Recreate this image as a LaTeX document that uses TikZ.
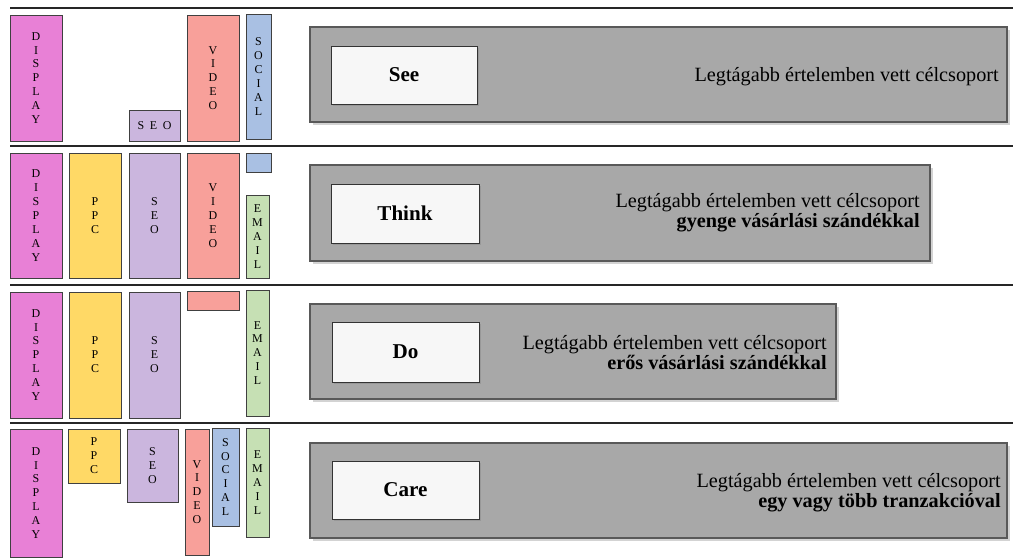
\documentclass[tikz,border=0pt]{standalone}
\usepackage{fontspec}
\setmainfont{Liberation Serif}
\usepackage{xcolor}
\usetikzlibrary{shadows}
\definecolor{dispc}{HTML}{E880D6}
\definecolor{ppcc}{HTML}{FFD966}
\definecolor{seoc}{HTML}{CBB6DE}
\definecolor{vidc}{HTML}{F8A09A}
\definecolor{socc}{HTML}{A9C0E3}
\definecolor{emlc}{HTML}{C6E0B4}
\definecolor{stagegray}{HTML}{A8A8A8}
\tikzset{
	chan/.style={draw=black!75, line width=0.6pt},
	dispbox/.style={chan, fill=dispc},
	ppcbox/.style={chan, fill=ppcc},
	seobox/.style={chan, fill=seoc},
	vidbox/.style={chan, fill=vidc},
	socbox/.style={chan, fill=socc},
	emlbox/.style={chan, fill=emlc},
	letters/.style={font=\fontsize{8.5}{9.9}\selectfont, align=center, inner sep=0pt},
	rowline/.style={draw=black!85, line width=1.3pt},
	stagebox/.style={fill=stagegray, draw=black!65, line width=0.8pt, drop shadow={shadow xshift=0.7mm, shadow yshift=-0.7mm, opacity=0.35}},
	namebox/.style={fill=black!3, draw=black!80, line width=0.7pt, drop shadow={shadow xshift=0.5mm, shadow yshift=-0.5mm, opacity=0.4}},
	stagename/.style={font=\fontsize{15}{17}\selectfont\bfseries},
	stagetext/.style={font=\fontsize{14.4}{12.3}\selectfont, align=right, anchor=east, inner sep=0pt}
}
\begin{document}
\begin{tikzpicture}[x=0.025cm, y=-0.025cm]
	\useasboundingbox (0,0) rectangle (1015,558);
	\coordinate (l1a) at (10,8);    \coordinate (l1b) at (1013,8);
	\coordinate (l2a) at (10,146);  \coordinate (l2b) at (1013,146);
	\coordinate (l3a) at (10,285);  \coordinate (l3b) at (1013,285);
	\coordinate (l4a) at (10,423);  \coordinate (l4b) at (1013,423);
	\draw[rowline] (l1a) -- (l1b);
	\draw[rowline] (l2a) -- (l2b);
	\draw[rowline] (l3a) -- (l3b);
	\draw[rowline] (l4a) -- (l4b);
	% See
	\draw[dispbox] (10,15) rectangle (62,141) node[midway, letters] (disp1) {D\\I\\S\\P\\L\\A\\Y};
	\draw[seobox] (129,110) rectangle (180,141) node[midway, letters] (seo1) {S\hspace{4pt}E\hspace{4pt}O};
	\draw[vidbox] (187,15) rectangle (239,141) node[midway, letters] (vid1) {V\\I\\D\\E\\O};
	\draw[socbox] (246,14) rectangle (271,139) node[midway, letters] (soc1) {S\\O\\C\\I\\A\\L};
	\draw[stagebox] (310,27) rectangle (1007,122);
	\draw[namebox] (331,46) rectangle (477,104) node[midway, stagename] (see) {See};
	\node[stagetext] (seetxt) at (999,77) {Legtágabb értelemben vett célcsoport};
	% Think
	\draw[dispbox] (10,153) rectangle (62,278) node[midway, letters] (disp2) {D\\I\\S\\P\\L\\A\\Y};
	\draw[ppcbox] (69,153) rectangle (121,278) node[midway, letters] (ppc2) {P\\P\\C};
	\draw[seobox] (129,153) rectangle (180,278) node[midway, letters] (seo2) {S\\E\\O};
	\draw[vidbox] (187,153) rectangle (239,278) node[midway, letters] (vid2) {V\\I\\D\\E\\O};
	\draw[socbox] (246,153) rectangle (271,172);
	\draw[emlbox] (246,195) rectangle (269,278) node[midway, letters] (eml2) {E\\M\\A\\I\\L};
	\draw[stagebox] (310,165) rectangle (930,261);
	\draw[namebox] (331,184) rectangle (479,243) node[midway, stagename] (think) {Think};
	\node[stagetext] (thinktxt) at (920,212.5) {Legtágabb értelemben vett célcsoport\\\textbf{gyenge vásárlási szándékkal}};
	% Do
	\draw[dispbox] (10,292) rectangle (62,418) node[midway, letters] (disp3) {D\\I\\S\\P\\L\\A\\Y};
	\draw[ppcbox] (69,292) rectangle (121,418) node[midway, letters] (ppc3) {P\\P\\C};
	\draw[seobox] (129,292) rectangle (180,418) node[midway, letters] (seo3) {S\\E\\O};
	\draw[vidbox] (187,291) rectangle (239,310);
	\draw[emlbox] (246,290) rectangle (269,416) node[midway, letters] (eml3) {E\\M\\A\\I\\L};
	\draw[stagebox] (310,304) rectangle (836,399);
	\draw[namebox] (332,322) rectangle (479,382) node[midway, stagename] (do) {Do};
	\node[stagetext] (dotxt) at (827,352.5) {Legtágabb értelemben vett célcsoport\\\textbf{erős vásárlási szándékkal}};
	% Care
	\draw[dispbox] (10,429) rectangle (62,557) node[midway, letters] (disp4) {D\\I\\S\\P\\L\\A\\Y};
	\draw[ppcbox] (68,429) rectangle (120,483) node[midway, letters] (ppc4) {P\\P\\C};
	\draw[seobox] (127,429) rectangle (178,502) node[midway, letters] (seo4) {S\\E\\O};
	\draw[vidbox] (185,429) rectangle (209,555) node[midway, letters] (vid4) {V\\I\\D\\E\\O};
	\draw[socbox] (212,428) rectangle (239,526) node[midway, letters] (soc4) {S\\O\\C\\I\\A\\L};
	\draw[emlbox] (246,428) rectangle (269,537) node[midway, letters] (eml4) {E\\M\\A\\I\\L};
	\draw[stagebox] (310,443) rectangle (1007,538);
	\draw[namebox] (332,461) rectangle (479,519) node[midway, stagename] (care) {Care};
	\node[stagetext] (caretxt) at (1001,492.5) {Legtágabb értelemben vett célcsoport\\\textbf{egy vagy több tranzakcióval}};
\end{tikzpicture}
\end{document}
